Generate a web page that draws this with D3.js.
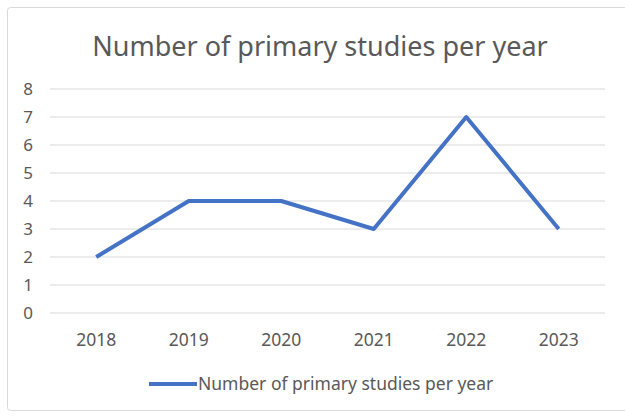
<!DOCTYPE html>
<html>
<head>
<meta charset="utf-8">
<script src="https://cdn.jsdelivr.net/npm/d3@7"></script>
<style>
  body { margin: 0; background: #fff; }
  text { font-family: "Noto Sans", "Open Sans", sans-serif; fill: #595959; }
</style>
</head>
<body>
<svg id="chart"></svg>
<script>
const years = ['2018', '2019', '2020', '2021', '2022', '2023'];
const studies = [2, 4, 4, 3, 7, 3];
const yTicks = [0, 1, 2, 3, 4, 5, 6, 7, 8];
const seriesName = 'Number of primary studies per year';

const width = 625, height = 418;
const margin = { top: 89, right: 20, bottom: 105, left: 50 };
const innerW = width - margin.left - margin.right;
const innerH = height - margin.top - margin.bottom;

const svg = d3.select('#chart')
  .attr('width', width)
  .attr('height', height);

// outer chart border
svg.append('rect')
  .attr('x', 7.5).attr('y', 7.5)
  .attr('width', 630).attr('height', 403)
  .attr('rx', 3)
  .attr('fill', '#fff')
  .attr('stroke', '#d9d9d9');

// title
svg.append('text')
  .attr('x', 320).attr('y', 56)
  .attr('text-anchor', 'middle')
  .style('font-size', '27px')
  .text(seriesName);

const g = svg.append('g')
  .attr('transform', `translate(${margin.left},${margin.top})`);

const x = d3.scaleBand().domain(years).range([0, innerW]);
const y = d3.scaleLinear().domain([0, 8]).range([innerH, 0]);

// grid lines
g.append('g')
  .selectAll('line')
  .data(yTicks)
  .join('line')
  .attr('x1', 0).attr('x2', innerW)
  .attr('y1', d => y(d)).attr('y2', d => y(d))
  .attr('stroke', '#d9d9d9')
  .attr('stroke-width', 1);

// y axis labels
g.append('g')
  .selectAll('text')
  .data(yTicks)
  .join('text')
  .attr('x', -17).attr('y', d => y(d))
  .attr('dy', '0.35em')
  .attr('text-anchor', 'end')
  .style('font-size', '17px')
  .text(d => d);

// x axis labels
g.append('g')
  .selectAll('text')
  .data(years)
  .join('text')
  .attr('x', d => x(d) + x.bandwidth() / 2)
  .attr('y', innerH + 27)
  .attr('dy', '0.35em')
  .attr('text-anchor', 'middle')
  .style('font-size', '17.5px')
  .text(d => d);

// line
const line = d3.line()
  .x((d, i) => x(years[i]) + x.bandwidth() / 2)
  .y(d => y(d));

g.append('path')
  .datum(studies)
  .attr('fill', 'none')
  .attr('stroke', '#4472c4')
  .attr('stroke-width', 4)
  .attr('stroke-linejoin', 'round')
  .attr('d', line);

// legend
const legend = svg.append('g').attr('transform', 'translate(149,384)');
legend.append('line')
  .attr('x1', 0).attr('x2', 48)
  .attr('stroke', '#4472c4')
  .attr('stroke-width', 4);
legend.append('text')
  .attr('x', 49).attr('dy', '0.35em')
  .style('font-size', '17.5px')
  .text(seriesName);
</script>
</body>
</html>
